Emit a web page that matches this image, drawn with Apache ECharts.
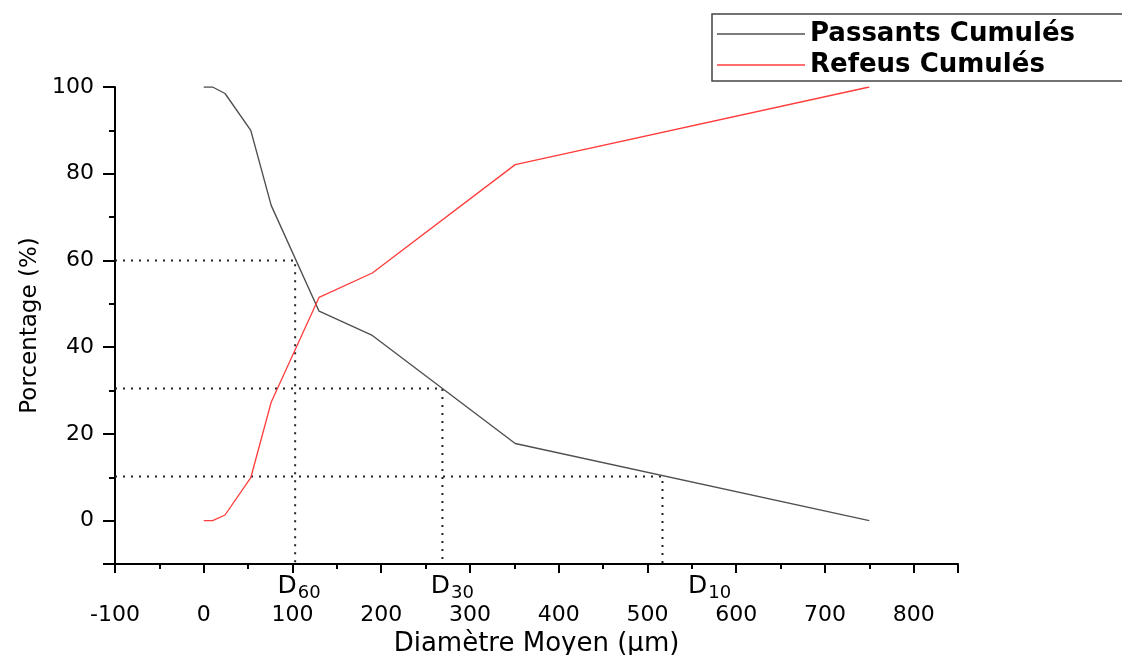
<!DOCTYPE html>
<html>
<head>
<meta charset="utf-8">
<script src="https://cdn.jsdelivr.net/npm/echarts@6/dist/echarts.min.js"></script>
<style>
html,body{margin:0;padding:0;background:#fff;}
#chart{width:1122px;height:655px;}
</style>
</head>
<body>
<div id="chart"></div>
<script>
// Mean diameter (µm) and cumulative percentages
const diametre = [0, 10, 24, 53, 76, 130, 190, 351, 750];
const passants = [100, 100, 98.5, 90, 72.7, 48.3, 42.7, 17.8, 0];
const refeus   = [0, 0, 1.3, 9.9, 27.3, 51.5, 57.1, 82.1, 100];

// Characteristic diameters D60, D30, D10
const dNames  = ['60', '30', '10'];
const dValues = [103, 269, 517];
const dLevels = [60, 30.5, 10.2];

const seriesNames = ['Passants Cumulés', 'Refeus Cumulés'];
const seriesColors = ['#505050', '#ff3c3c'];
const xName = 'Diamètre Moyen (µm)';
const yName = 'Porcentage (%)';

const X_MIN = -100, X_MAX = 850, Y_MIN = -10, Y_MAX = 100;

const FONT = 'DejaVu Sans';
const labelOffsets = [[4, 0], [10, 0], [47, 0]];

const guideSeries = dValues.map((d, i) => ({
  type: 'line',
  name: 'guide' + i,
  data: [[X_MIN, dLevels[i]], [d, dLevels[i]], [d, Y_MIN]],
  symbol: 'none',
  silent: true,
  clip: false,
  z: 1,
  lineStyle: { color: '#222', width: 2, type: [2, 6] }
}));

const dLabelSeries = {
  type: 'scatter',
  name: 'dlabels',
  symbolSize: 0,
  silent: true,
  clip: false,
  itemStyle: { opacity: 1, color: '#000' },
  data: dValues.map((d, i) => ({
    value: [d, Y_MIN],
    label: {
      show: true,
      position: 'bottom',
      distance: 10,
      offset: labelOffsets[i],
      color: '#000',
      opacity: 1,
      formatter: '{a|D}{b|' + dNames[i] + '}',
      rich: {
        a: { fontFamily: FONT, fontSize: 25, lineHeight: 28, color: '#000', verticalAlign: 'top' },
        b: { fontFamily: FONT, fontSize: 18, lineHeight: 18, color: '#000', verticalAlign: 'bottom', padding: [15, 0, 0, 1] }
      }
    }
  }))
};

const chart = echarts.init(document.getElementById('chart'));
chart.setOption({
  animation: false,
  backgroundColor: '#fff',
  grid: { left: 115, right: 164, top: 87, bottom: 91, containLabel: false, outerBoundsMode: 'none' },
  legend: {
    data: seriesNames.map((n, i) => ({ name: n, icon: 'rect', itemStyle: { color: seriesColors[i] } })),
    orient: 'vertical',
    left: 712,
    top: 14,
    padding: [7, 110, 3, 5],
    itemWidth: 88,
    itemHeight: 1.5,
    itemGap: 5,
    borderColor: '#444',
    borderWidth: 1.5,
    textStyle: { fontFamily: FONT, fontSize: 26, fontWeight: 'bold', color: '#000', lineHeight: 25 }
  },
  xAxis: {
    type: 'value',
    min: X_MIN,
    max: X_MAX,
    interval: 100,
    name: xName,
    nameLocation: 'middle',
    nameGap: 62,
    nameTextStyle: { fontFamily: FONT, fontSize: 26, color: '#000' },
    axisLine: { show: true, onZero: false, lineStyle: { color: '#000', width: 2 } },
    axisTick: { show: true, inside: false, length: 9, lineStyle: { color: '#000', width: 2 } },
    minorTick: { show: true, splitNumber: 2, length: 5, lineStyle: { color: '#000', width: 2 } },
    axisLabel: {
      margin: 40,
      fontFamily: FONT, fontSize: 22, color: '#000',
      formatter: v => (v === X_MAX ? '' : String(v))
    },
    splitLine: { show: false }
  },
  yAxis: {
    type: 'value',
    min: Y_MIN,
    max: Y_MAX,
    splitNumber: 5,
    name: yName,
    nameLocation: 'middle',
    nameGap: 72,
    nameTextStyle: { fontFamily: FONT, fontSize: 23, color: '#000' },
    axisLine: { show: true, onZero: false, lineStyle: { color: '#000', width: 2 } },
    axisTick: { show: true, inside: false, length: 12, lineStyle: { color: '#000', width: 2 } },
    minorTick: { show: true, splitNumber: 2, length: 6, lineStyle: { color: '#000', width: 2 } },
    axisLabel: {
      margin: 21,
      fontFamily: FONT, fontSize: 22, color: '#000',
      formatter: v => (v === Y_MIN ? '' : String(v))
    },
    splitLine: { show: false }
  },
  series: [
    {
      type: 'line',
      name: seriesNames[0],
      data: diametre.map((d, i) => [d, passants[i]]),
      symbol: 'none',
      z: 3,
      itemStyle: { color: seriesColors[0] },
      lineStyle: { color: seriesColors[0], width: 1.4 }
    },
    {
      type: 'line',
      name: seriesNames[1],
      data: diametre.map((d, i) => [d, refeus[i]]),
      symbol: 'none',
      z: 3,
      itemStyle: { color: seriesColors[1] },
      lineStyle: { color: seriesColors[1], width: 1.3 }
    },
    ...guideSeries,
    dLabelSeries
  ]
});
</script>
</body>
</html>
